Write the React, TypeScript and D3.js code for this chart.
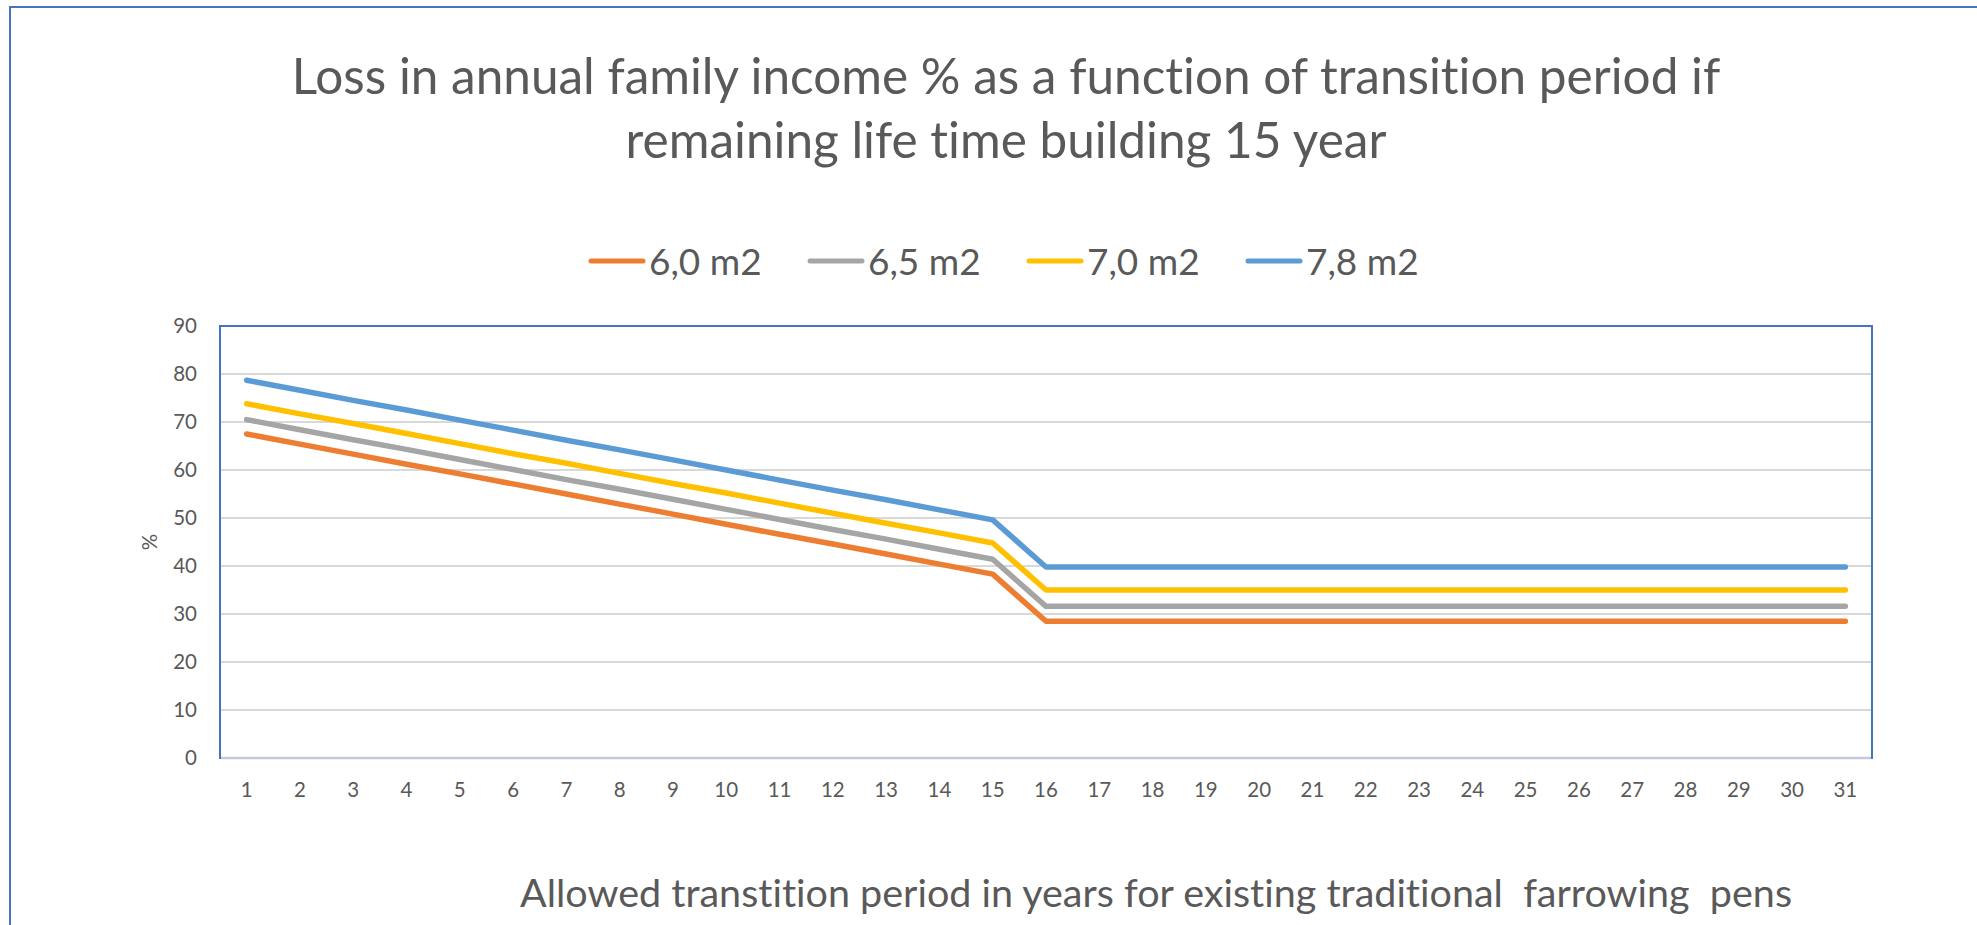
import * as d3 from 'd3';
import React from 'react';

const years = d3.range(1, 32).map(String);
const seriesNames = ['6,0 m2', '6,5 m2', '7,0 m2', '7,8 m2'];
const seriesColors = ['#ED7D31', '#A5A5A5', '#FFC000', '#5B9BD5'];

const loss60 = [67.5, 65.4, 63.3, 61.2, 59.2, 57.1, 55.0, 52.9, 50.8, 48.7, 46.6, 44.6, 42.5, 40.4, 38.3,
  28.5, 28.5, 28.5, 28.5, 28.5, 28.5, 28.5, 28.5, 28.5, 28.5, 28.5, 28.5, 28.5, 28.5, 28.5, 28.5];
const loss65 = [70.5, 68.4, 66.3, 64.3, 62.2, 60.1, 58.0, 56.0, 53.9, 51.8, 49.7, 47.6, 45.6, 43.5, 41.4,
  31.6, 31.6, 31.6, 31.6, 31.6, 31.6, 31.6, 31.6, 31.6, 31.6, 31.6, 31.6, 31.6, 31.6, 31.6, 31.6];
const loss70 = [73.8, 71.7, 69.7, 67.6, 65.5, 63.4, 61.4, 59.3, 57.2, 55.2, 53.1, 51.0, 48.9, 46.9, 44.8,
  35.0, 35.0, 35.0, 35.0, 35.0, 35.0, 35.0, 35.0, 35.0, 35.0, 35.0, 35.0, 35.0, 35.0, 35.0, 35.0];
const loss78 = [78.7, 76.6, 74.5, 72.5, 70.4, 68.3, 66.2, 64.2, 62.1, 60.0, 57.9, 55.8, 53.8, 51.7, 49.6,
  39.8, 39.8, 39.8, 39.8, 39.8, 39.8, 39.8, 39.8, 39.8, 39.8, 39.8, 39.8, 39.8, 39.8, 39.8, 39.8];

const yTicks = [0, 10, 20, 30, 40, 50, 60, 70, 80, 90];

const titleLines = [
  'Loss in annual family income % as a function of transition period if',
  'remaining life time building 15 year',
];
const xTitle = 'Allowed transtition period in years for existing traditional  farrowing  pens';
const yTitle = '%';

const font = 'Lato, "Open Sans", sans-serif';
const textColor = '#595959';

export default function App() {
  const width = 1977;
  const height = 925;
  const plot = { left: 220, right: 1872, top: 326, bottom: 758 };

  // Scales
  const x = d3.scalePoint<string>().domain(years).range([plot.left, plot.right]).padding(0.5);
  const y = d3.scaleLinear().domain([0, 90]).range([plot.bottom, plot.top]);

  const line = d3
    .line<number>()
    .x((_, i) => x(years[i]) as number)
    .y((d) => y(d));

  const allSeries = [loss60, loss65, loss70, loss78];

  return (
    <svg
      width={width}
      height={height}
      style={{ position: 'absolute', left: 0, top: 0, background: '#fff', fontVariantLigatures: 'none' }}
    >
      {/* outer chart frame */}
      <rect x={10} y={7} width={2100} height={1100} fill="#fff" stroke="#4472C4" strokeWidth={2} />

      {/* title */}
      {titleLines.map((t, i) => (
        <text
          key={i}
          x={1006}
          y={94 + i * 64}
          textAnchor="middle"
          fontFamily={font}
          fontSize={49.5}
          fill={textColor}
        >
          {t}
        </text>
      ))}

      {/* legend */}
      {seriesNames.map((name, i) => {
        const lx = 589 + i * 219;
        return (
          <g key={name}>
            <line
              x1={lx + 2}
              x2={lx + 54}
              y1={261}
              y2={261}
              stroke={seriesColors[i]}
              strokeWidth={5}
              strokeLinecap="round"
            />
            <text x={lx + 60} y={275} fontFamily={font} fontSize={37} fill={textColor}>
              {name}
            </text>
          </g>
        );
      })}

      {/* gridlines */}
      {yTicks.map((t) => (
        <line
          key={t}
          x1={plot.left}
          x2={plot.right}
          y1={y(t)}
          y2={y(t)}
          stroke="#D9D9D9"
          strokeWidth={2}
        />
      ))}

      {/* plot area border */}
      <rect
        x={plot.left}
        y={plot.top}
        width={plot.right - plot.left}
        height={plot.bottom - plot.top}
        fill="none"
        stroke="#4472C4"
        strokeWidth={2}
      />
      {/* x axis line */}
      <line
        x1={plot.left + 1}
        x2={plot.right - 1}
        y1={plot.bottom}
        y2={plot.bottom}
        stroke="#C3CAD8"
        strokeWidth={2.5}
      />

      {/* y tick labels */}
      {yTicks.map((t) => (
        <text
          key={t}
          x={197}
          y={y(t) + 7}
          textAnchor="end"
          fontFamily={font}
          fontSize={20.5}
          fill={textColor}
        >
          {t}
        </text>
      ))}

      {/* x tick labels */}
      {years.map((yr) => (
        <text
          key={yr}
          x={x(yr)}
          y={797}
          textAnchor="middle"
          fontFamily={font}
          fontSize={20.5}
          fill={textColor}
        >
          {yr}
        </text>
      ))}

      {/* series */}
      {allSeries.map((s, i) => (
        <path
          key={i}
          d={line(s) ?? ''}
          fill="none"
          stroke={seriesColors[i]}
          strokeWidth={5.5}
          strokeLinecap="round"
          strokeLinejoin="round"
        />
      ))}

      {/* axis titles */}
      <text
        transform={`translate(157,${(plot.top + plot.bottom) / 2}) rotate(-90)`}
        textAnchor="middle"
        fontFamily={font}
        fontSize={20.5}
        fill={textColor}
      >
        {yTitle}
      </text>
      <text
        x={1156}
        y={907}
        textAnchor="middle"
        fontFamily={font}
        fontSize={39.5}
        fill={textColor}
        style={{ whiteSpace: 'pre' }}
      >
        {xTitle}
      </text>
    </svg>
  );
}
